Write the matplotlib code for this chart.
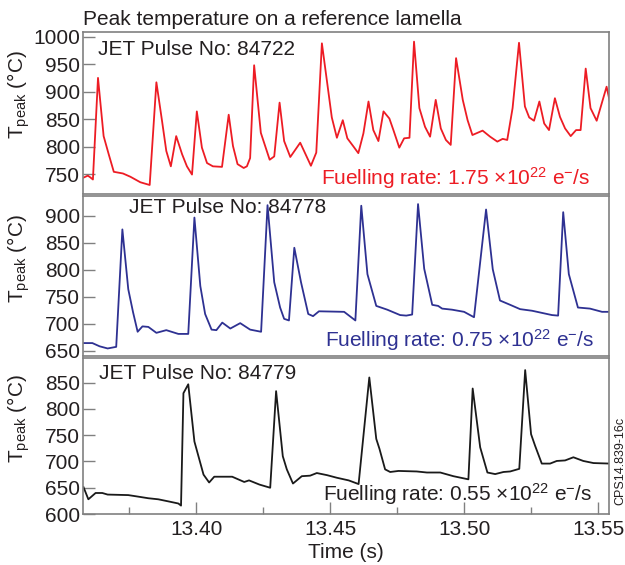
import matplotlib
matplotlib.use("Agg")
import matplotlib.pyplot as plt
from matplotlib.ticker import MultipleLocator

plt.rcParams["font.family"] = ["Liberation Sans", "DejaVu Sans"]
plt.rcParams["mathtext.fontset"] = "custom"
plt.rcParams["mathtext.rm"] = "Liberation Sans"
plt.rcParams["mathtext.it"] = "Liberation Sans:italic"

# ---------------------------------------------------------------------------
# Data: time (s) and peak temperature (degC)
# ---------------------------------------------------------------------------
t_84722 = [13.3577, 13.3595, 13.3604, 13.3614, 13.3633, 13.3654, 13.3673, 13.3692, 13.3726, 13.3754,
           13.3791, 13.3826, 13.3851, 13.3872, 13.3888, 13.3905, 13.3925, 13.3947, 13.3965, 13.3984,
           13.4002, 13.4021, 13.4040, 13.4062, 13.4096, 13.4121, 13.4137, 13.4154, 13.4177, 13.4189,
           13.4201, 13.4216, 13.4241, 13.4274, 13.4291, 13.4311, 13.4328, 13.4351, 13.4388, 13.4428,
           13.4448, 13.4469, 13.4506, 13.4525, 13.4547, 13.4564, 13.4587, 13.4605, 13.4624, 13.4643,
           13.4661, 13.4680, 13.4699, 13.4721, 13.4736, 13.4758, 13.4776, 13.4796, 13.4813, 13.4833,
           13.4854, 13.4873, 13.4894, 13.4913, 13.4932, 13.4950, 13.4970, 13.4995, 13.5013, 13.5031,
           13.5069, 13.5097, 13.5124, 13.5144, 13.5161, 13.5181, 13.5205, 13.5227, 13.5243, 13.5261,
           13.5281, 13.5299, 13.5317, 13.5339, 13.5358, 13.5377, 13.5398, 13.5418, 13.5435, 13.5454,
           13.5472, 13.5495, 13.5532, 13.5551]
T_84722 = [743, 747, 744, 740, 925, 819, 786, 754, 751, 745,
           735, 730, 917, 847, 792, 764, 819, 786, 764, 749,
           864, 798, 770, 764, 763, 858, 801, 768, 761, 764,
           779, 948, 825, 776, 782, 880, 810, 781, 807, 765,
           789, 988, 853, 816, 848, 815, 800, 788, 824, 882,
           830, 810, 864, 851, 830, 798, 815, 816, 991, 870,
           836, 818, 885, 833, 812, 803, 961, 885, 848, 821,
           829, 818, 809, 814, 812, 870, 989, 873, 853, 847,
           882, 842, 830, 888, 854, 833, 819, 830, 830, 942,
           870, 847, 909, 866]

t_84778 = [13.3579, 13.3612, 13.3639, 13.3669, 13.3701, 13.3724, 13.3746, 13.3764, 13.3781, 13.3799,
           13.3821, 13.3851, 13.3888, 13.3933, 13.3970, 13.3993, 13.4015, 13.4033, 13.4057, 13.4075,
           13.4097, 13.4127, 13.4164, 13.4201, 13.4242, 13.4266, 13.4291, 13.4313, 13.4328, 13.4346,
           13.4366, 13.4391, 13.4418, 13.4436, 13.4458, 13.4552, 13.4594, 13.4616, 13.4639, 13.4672,
           13.4713, 13.4761, 13.4784, 13.4806, 13.4828, 13.4851, 13.4881, 13.4903, 13.4918, 13.4955,
           13.5000, 13.5037, 13.5082, 13.5107, 13.5134, 13.5172, 13.5209, 13.5254, 13.5328, 13.5351,
           13.5370, 13.5391, 13.5425, 13.5470, 13.5515, 13.5560]
T_84778 = [664, 664, 658, 654, 657, 875, 764, 721, 685, 695,
           694, 683, 688, 681, 681, 897, 770, 718, 689, 688,
           702, 691, 701, 689, 685, 920, 777, 730, 709, 706,
           841, 777, 718, 714, 723, 722, 706, 919, 792, 733,
           726, 716, 715, 717, 922, 802, 735, 733, 728, 726,
           722, 712, 912, 801, 743, 735, 727, 724, 716, 715,
           907, 792, 730, 728, 722, 722]

t_84779 = [13.3579, 13.3597, 13.3624, 13.3649, 13.3669, 13.3746, 13.3784, 13.3821, 13.3858, 13.3896,
           13.3933, 13.3943, 13.3952, 13.3970, 13.3993, 13.4007, 13.4027, 13.4048, 13.4067, 13.4134,
           13.4179, 13.4197, 13.4236, 13.4276, 13.4298, 13.4323, 13.4338, 13.4361, 13.4394, 13.4425,
           13.4450, 13.4488, 13.4525, 13.4569, 13.4606, 13.4646, 13.4672, 13.4684, 13.4705, 13.4724,
           13.4755, 13.4823, 13.4861, 13.4911, 13.4960, 13.5016, 13.5032, 13.5060, 13.5087, 13.5116,
           13.5147, 13.5172, 13.5206, 13.5228, 13.5250, 13.5265, 13.5290, 13.5321, 13.5346, 13.5377,
           13.5408, 13.5445, 13.5483, 13.5545]
T_84779 = [651, 628, 640, 640, 637, 636, 633, 630, 628, 624,
           620, 616, 830, 847, 738, 712, 675, 660, 671, 671,
           661, 664, 656, 650, 834, 710, 685, 658, 672, 673,
           678, 674, 669, 664, 657, 860, 743, 724, 685, 680,
           682, 681, 679, 679, 672, 666, 839, 727, 679, 676,
           680, 681, 686, 874, 752, 730, 696, 696, 701, 702,
           708, 701, 697, 696]

pulses = ["84722", "84778", "84779"]
rates = ["1.75", "0.75", "0.55"]
yticks = [[750, 800, 850, 900, 950, 1000],
          [650, 700, 750, 800, 850, 900],
          [600, 650, 700, 750, 800, 850]]
ylims = [(713.6, 1009.5), (640, 938), (600, 898)]
xticks = [13.40, 13.45, 13.50, 13.55]

# ---------------------------------------------------------------------------
# Figure
# ---------------------------------------------------------------------------
W, H = 625, 565
fig = plt.figure(figsize=(W / 100, H / 100), dpi=100)

line_colors = ["#ed1c24", "#2e3192", "#1a1a1a"]
rate_colors = ["#ed1c24", "#2e3192", "#231f20"]
txt = "#231f20"
frame = "#808080"

# panel extents in pixels (top, bottom)
panels = [(31.5, 194), (195.5, 356), (357.5, 514)]
left, right = 83, 609
jet_pos = [(98, 55), (129, 212.7), (99, 379.3)]
rate_pos = [(590, 185), (594, 346.7), (592, 501)]

series = [(t_84722, T_84722), (t_84778, T_84778), (t_84779, T_84779)]

for i, ((top, bot), (tt, TT)) in enumerate(zip(panels, series)):
    ax = fig.add_axes([left / W, 1 - bot / H, (right - left) / W, (bot - top) / H])
    ax.plot(tt, TT, color=line_colors[i], lw=1.3)
    ax.set_xlim(13.3577, 13.5541)
    ax.set_ylim(*ylims[i])
    ax.set_yticks(yticks[i])
    for s in ax.spines.values():
        s.set_color(frame)
        s.set_linewidth(1.2)
    ax.tick_params(axis="y", direction="in", length=8.6, width=1.0, color=frame,
                   labelsize=15, labelcolor=txt, pad=2)
    if i < 2:
        ax.tick_params(axis="x", bottom=False, labelbottom=False)
    else:
        ax.set_xticks(xticks)
        ax.set_xticklabels([f"{x:.2f}" for x in xticks])
        ax.xaxis.set_minor_locator(MultipleLocator(0.025))
        ax.tick_params(axis="x", which="major", direction="in", length=8.6, width=1.0,
                       color=frame, labelsize=15, labelcolor=txt, pad=4)
        ax.tick_params(axis="x", which="minor", direction="in", length=4.8, width=1.0,
                       color=frame)
        ax.set_xlabel("Time (s)", fontsize=15, color=txt, labelpad=3)
    ax.set_ylabel(r"T$_\mathregular{peak}$ (°C)", fontsize=15, color=txt)
    ax.yaxis.set_label_coords(-0.097, 0.61)

    h = bot - top
    jx, jy = jet_pos[i]
    ax.text((jx - left) / (right - left), (bot - jy) / h, f"JET Pulse No: {pulses[i]}",
            transform=ax.transAxes, fontsize=15, color=txt, ha="left", va="baseline")
    rx, ry = rate_pos[i]
    ax.text((rx - left) / (right - left), (bot - ry) / h,
            f"Fuelling rate: {rates[i]}" + r" $\times$10$^{22}$ e$^{-}$/s",
            transform=ax.transAxes, fontsize=15, color=rate_colors[i],
            ha="right", va="baseline")

fig.text(83 / W, 1 - 25 / H, "Peak temperature on a reference lamella",
         fontsize=15, color=txt, ha="left", va="baseline")
fig.text(620 / W, 1 - 505 / H, "CPS14.839-16c", fontsize=9, color=txt,
         rotation=90, ha="center", va="bottom")

fig.savefig("out.png", dpi=100)
